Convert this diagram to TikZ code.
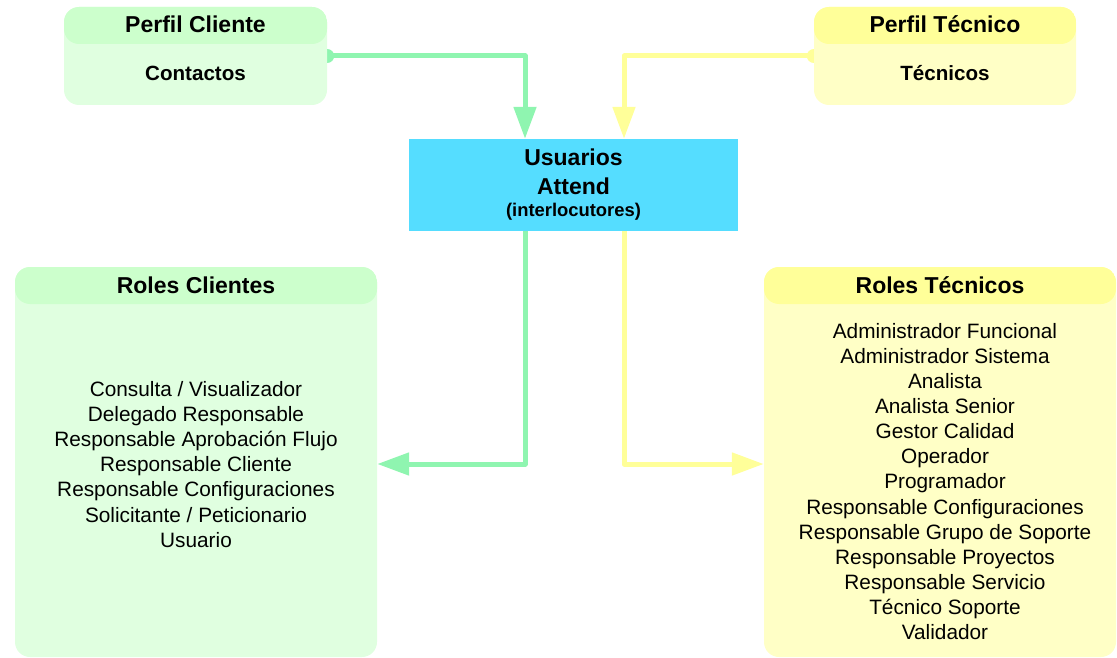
\documentclass[tikz,border=0pt]{standalone}
\usepackage{fontspec}
\setmainfont{Liberation Sans}
\usetikzlibrary{arrows.meta,backgrounds}
\definecolor{ghead}{RGB}{204,255,204}
\definecolor{gbody}{RGB}{224,255,224}
\definecolor{yhead}{RGB}{255,255,153}
\definecolor{ybody}{RGB}{255,255,198}
\definecolor{cyanbox}{RGB}{85,221,255}
\definecolor{gline}{RGB}{143,245,176}
\definecolor{yline}{RGB}{255,255,153}
\tikzset{
  twotone/.style n args={2}{rectangle, rounded corners=15pt, fill=#1, inner sep=0pt,
    path picture={\fill[#2] (path picture bounding box.north west) rectangle ([yshift=-37pt]path picture bounding box.north east);}},
  gbox/.style={twotone={gbody}{ghead}},
  ybox/.style={twotone={ybody}{yhead}},
  ubox/.style={rectangle, fill=cyanbox, inner sep=0pt},
  ttl/.style={font=\fontsize{23pt}{27pt}\selectfont\bfseries, anchor=base, inner sep=0pt},
  sub/.style={font=\fontsize{20.6pt}{25pt}\selectfont\bfseries, anchor=base, inner sep=0pt},
  lst/.style={font=\fontsize{20.8pt}{25.1pt}\selectfont, align=center, anchor=base, inner sep=0pt},
  conn/.style={line width=5pt, line join=round, -{Triangle[length=32pt,width=22pt]}},
}
\begin{document}
\begin{tikzpicture}[x=1pt,y=-1pt]
\useasboundingbox (0,0) rectangle (1117,658);
% boxes
\node[gbox, minimum width=263pt, minimum height=98pt] (pc) at (195.5,56) {};
\node[ybox, minimum width=262pt, minimum height=98pt] (pt) at (945,56) {};
\node[ubox, minimum width=329pt, minimum height=92pt] (us) at (573.5,185) {};
\node[gbox, minimum width=362pt, minimum height=390pt] (rc) at (196,462) {};
\node[ybox, minimum width=352pt, minimum height=390pt] (rt) at (940,462) {};
% texts
\node[ttl] (pct) at (195.5,32.3) {Perfil Cliente};
\node[sub] (pcs) at (195.5,81) {Contactos};
\node[ttl] (ptt) at (945,32.3) {Perfil Técnico};
\node[sub] (pts) at (945,81) {Técnicos};
\node[ttl] (us1) at (573.5,166) {Usuarios};
\node[ttl] (us2) at (573.5,195) {Attend};
\node[font=\fontsize{18.4pt}{22pt}\selectfont\bfseries, anchor=base, inner sep=0pt] (us3) at (573.5,216.5) {(interlocutores)};
\node[ttl] (rct) at (196,293.3) {Roles Clientes};
\node[ttl] (rtt) at (940,293.3) {Roles Técnicos};
\node[lst] (rcl) at (196,547.1) {Consulta / Visualizador\\Delegado Responsable\\Responsable Aprobación Flujo\\Responsable Cliente\\Responsable Configuraciones\\Solicitante / Peticionario\\Usuario};
\node[lst] (rtl) at (945,639.5) {Administrador Funcional\\Administrador Sistema\\Analista\\Analista Senior\\Gestor Calidad\\Operador\\Programador\\Responsable Configuraciones\\Responsable Grupo de Soporte\\Responsable Proyectos\\Responsable Servicio\\Técnico Soporte\\Validador};
% connectors
\begin{scope}[on background layer]
\fill[gline] (pc.east) circle (7pt);
\fill[yline] (pt.west) circle (7pt);
\draw[conn, gline] (pc.east) -| ([xshift=-48.5pt]us.north);
\draw[conn, yline] (pt.west) -| ([xshift=50.5pt]us.north);
\draw[conn, gline] ([xshift=-48.5pt]us.south) |- ([yshift=-2pt]rc.east);
\draw[conn, yline] ([xshift=50.5pt]us.south) |- ([yshift=-2pt]rt.west);
\end{scope}
\end{tikzpicture}
\end{document}
